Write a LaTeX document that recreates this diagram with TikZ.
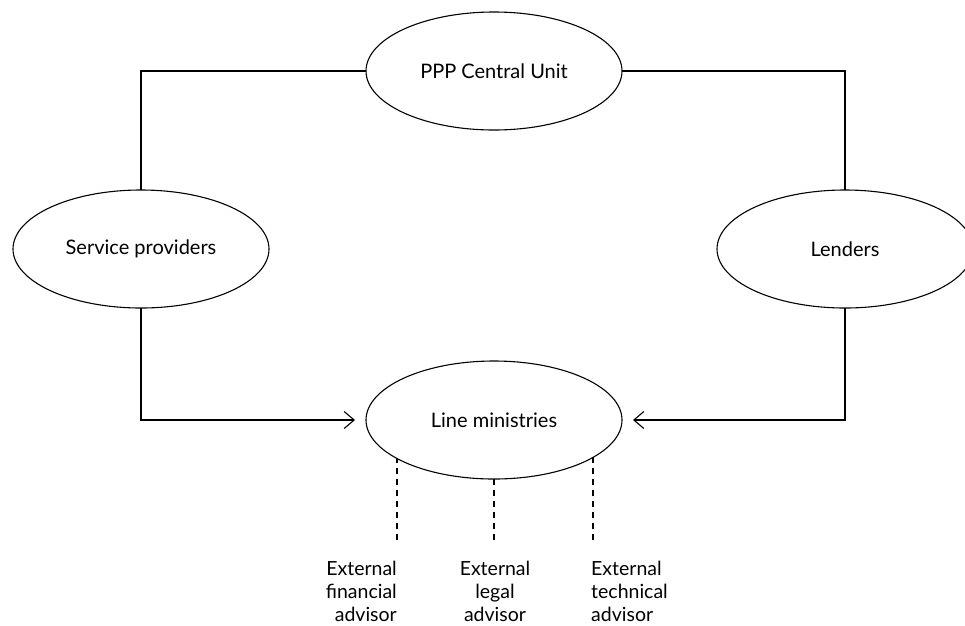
\documentclass[tikz,border=0pt]{standalone}
\usepackage{fontspec}
\setmainfont{Lato}
\usetikzlibrary{shapes.geometric,arrows.meta,backgrounds}
\begin{document}
\begin{tikzpicture}[x=1pt,y=-1pt,
  oval/.style={ellipse,draw,line width=1.1pt,minimum width=256pt,minimum height=118pt,inner sep=0pt,outer sep=0pt,fill=white,font=\fontsize{20}{23}\selectfont},
  link/.style={line width=1.1pt},
  arr/.style={link,-{Straight Barb[length=10pt,width=17pt,line width=1.1pt]},shorten >=11pt},
  dashl/.style={line width=1.1pt,dash pattern=on 6pt off 5pt},
  lab/.style={inner sep=0pt,font=\fontsize{19.5}{23}\selectfont}]
\useasboundingbox (0,0) rectangle (965,625);
\node[oval] (ppp) at (494,71) {PPP Central Unit};
\node[oval] (sp) at (141,249) {Service providers};
\node[oval] (len) at (845,249) {Lenders};
\node[oval] (lm) at (494,420) {Line ministries};
\draw[link] (ppp.west) -| (sp.north);
\draw[link] (ppp.east) -| (len.north);
\draw[arr] (sp.south) |- (lm.west);
\draw[arr] (len.south) |- (lm.east);
\coordinate (d1) at (397,540);
\coordinate (d2) at (494,540);
\coordinate (d3) at (593,540);
\begin{scope}[on background layer]
\draw[dashl] (d1) -- (d1 |- lm.center);
\draw[dashl] (d2) -- (d2 |- lm.center);
\draw[dashl] (d3) -- (d3 |- lm.center);
\end{scope}
\node[lab,anchor=north east,align=right] (t1) at (397,561) {External\\financial\\advisor};
\node[lab,anchor=north,align=center] (t2) at (495,561) {External\\legal\\advisor};
\node[lab,anchor=north west,align=left] (t3) at (591,561) {External\\technical\\advisor};
\end{tikzpicture}
\end{document}
